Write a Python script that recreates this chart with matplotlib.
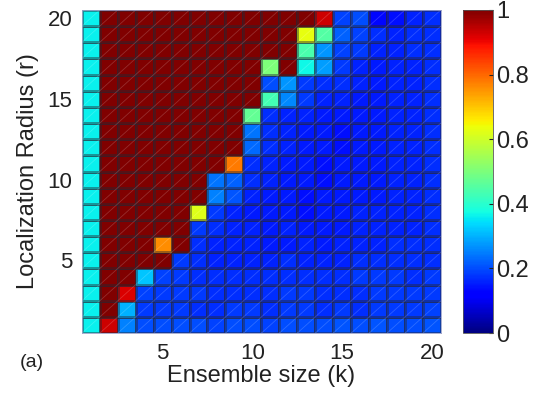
import numpy as np
import matplotlib
matplotlib.use('Agg')
import matplotlib.pyplot as plt
from matplotlib.collections import LineCollection

plt.rcParams['font.family'] = ['Liberation Sans', 'DejaVu Sans']

# Ensemble size k (columns) and localization radius r (rows)
k_vals = np.arange(1, 21)
r_vals = np.arange(1, 21)
x_ticks = [5, 10, 15, 20]
y_ticks = [5, 10, 15, 20]
cbar_ticks = [0, 0.2, 0.4, 0.6, 0.8, 1]

# values, one list per radius r = 1 .. 20 (bottom to top)
row_r01 = [0.36, 0.93, 0.25, 0.20, 0.20, 0.20, 0.20, 0.19, 0.20, 0.20, 0.19, 0.20, 0.20, 0.20, 0.21, 0.20, 0.21, 0.20, 0.20, 0.21]
row_r02 = [0.36, 1.00, 0.30, 0.18, 0.18, 0.18, 0.17, 0.17, 0.18, 0.18, 0.17, 0.18, 0.18, 0.17, 0.18, 0.17, 0.18, 0.18, 0.18, 0.19]
row_r03 = [0.36, 1.00, 0.92, 0.19, 0.18, 0.18, 0.18, 0.17, 0.17, 0.17, 0.17, 0.18, 0.18, 0.17, 0.17, 0.17, 0.18, 0.18, 0.18, 0.18]
row_r04 = [0.36, 1.00, 1.00, 0.32, 0.19, 0.18, 0.17, 0.17, 0.17, 0.17, 0.17, 0.17, 0.17, 0.17, 0.17, 0.18, 0.18, 0.18, 0.17, 0.18]
row_r05 = [0.36, 1.00, 1.00, 1.00, 1.00, 0.18, 0.17, 0.16, 0.16, 0.16, 0.16, 0.17, 0.16, 0.16, 0.16, 0.17, 0.17, 0.17, 0.17, 0.17]
row_r06 = [0.36, 1.00, 1.00, 1.00, 0.76, 1.00, 0.17, 0.16, 0.16, 0.16, 0.15, 0.15, 0.16, 0.15, 0.16, 0.16, 0.16, 0.17, 0.17, 0.17]
row_r07 = [0.36, 1.00, 1.00, 1.00, 1.00, 1.00, 0.18, 0.17, 0.16, 0.16, 0.15, 0.16, 0.15, 0.15, 0.15, 0.16, 0.16, 0.16, 0.16, 0.17]
row_r08 = [0.36, 1.00, 1.00, 1.00, 1.00, 1.00, 0.62, 0.18, 0.16, 0.15, 0.15, 0.15, 0.14, 0.15, 0.15, 0.16, 0.16, 0.16, 0.16, 0.17]
row_r09 = [0.36, 1.00, 1.00, 1.00, 1.00, 1.00, 1.00, 0.25, 0.21, 0.16, 0.15, 0.15, 0.14, 0.15, 0.15, 0.15, 0.15, 0.16, 0.16, 0.17]
row_r10 = [0.36, 1.00, 1.00, 1.00, 1.00, 1.00, 1.00, 0.24, 0.22, 0.17, 0.16, 0.15, 0.15, 0.14, 0.15, 0.15, 0.15, 0.16, 0.16, 0.17]
row_r11 = [0.36, 1.00, 1.00, 1.00, 1.00, 1.00, 1.00, 1.00, 0.78, 0.17, 0.16, 0.15, 0.15, 0.14, 0.15, 0.15, 0.15, 0.16, 0.16, 0.17]
row_r12 = [0.36, 1.00, 1.00, 1.00, 1.00, 1.00, 1.00, 1.00, 1.00, 0.23, 0.17, 0.16, 0.15, 0.15, 0.14, 0.15, 0.15, 0.16, 0.16, 0.17]
row_r13 = [0.36, 1.00, 1.00, 1.00, 1.00, 1.00, 1.00, 1.00, 1.00, 0.24, 0.17, 0.16, 0.15, 0.15, 0.14, 0.15, 0.15, 0.16, 0.16, 0.17]
row_r14 = [0.36, 1.00, 1.00, 1.00, 1.00, 1.00, 1.00, 1.00, 1.00, 0.47, 0.17, 0.16, 0.16, 0.15, 0.15, 0.15, 0.15, 0.16, 0.16, 0.17]
row_r15 = [0.36, 1.00, 1.00, 1.00, 1.00, 1.00, 1.00, 1.00, 1.00, 1.00, 0.43, 0.26, 0.18, 0.16, 0.16, 0.15, 0.15, 0.16, 0.16, 0.17]
row_r16 = [0.36, 1.00, 1.00, 1.00, 1.00, 1.00, 1.00, 1.00, 1.00, 1.00, 0.20, 0.27, 0.18, 0.17, 0.17, 0.16, 0.15, 0.16, 0.16, 0.17]
row_r17 = [0.36, 1.00, 1.00, 1.00, 1.00, 1.00, 1.00, 1.00, 1.00, 1.00, 0.50, 1.00, 0.37, 0.28, 0.18, 0.16, 0.15, 0.16, 0.16, 0.17]
row_r18 = [0.36, 1.00, 1.00, 1.00, 1.00, 1.00, 1.00, 1.00, 1.00, 1.00, 1.00, 1.00, 0.44, 0.27, 0.19, 0.18, 0.16, 0.16, 0.17, 0.17]
row_r19 = [0.36, 1.00, 1.00, 1.00, 1.00, 1.00, 1.00, 1.00, 1.00, 1.00, 1.00, 1.00, 0.63, 0.45, 0.22, 0.19, 0.17, 0.16, 0.17, 0.17]
row_r20 = [0.36, 1.00, 1.00, 1.00, 1.00, 1.00, 1.00, 1.00, 1.00, 1.00, 1.00, 1.00, 1.00, 0.93, 0.19, 0.20, 0.13, 0.14, 0.16, 0.17]

Z = np.array([row_r01, row_r02, row_r03, row_r04, row_r05, row_r06, row_r07,
              row_r08, row_r09, row_r10, row_r11, row_r12, row_r13, row_r14,
              row_r15, row_r16, row_r17, row_r18, row_r19, row_r20])

fig = plt.figure(figsize=(5.35, 3.98), dpi=100)
ax = fig.add_axes([0.153, 0.163, 0.671, 0.812])
cax = fig.add_axes([0.865, 0.163, 0.057, 0.812])

# cell edges
x_edges = np.append(k_vals - 0.5, k_vals[-1] + 0.5)
y_edges = np.append(r_vals - 0.5, r_vals[-1] + 0.5)
mesh = ax.pcolormesh(x_edges, y_edges, Z, cmap='jet', vmin=0, vmax=1,
                     edgecolors=(0.15, 0.15, 0.2, 0.45), linewidth=0.9)

# faint diagonal seams inside every cell (from the original export)
segs = [[(x0, y0), (x0 + 1, y0 + 1)] for x0 in x_edges[:-1] for y0 in y_edges[:-1]]
ax.add_collection(LineCollection(segs, colors='white', alpha=0.18, linewidths=0.6))

ax.set_xlim(x_edges[0], x_edges[-1])
ax.set_ylim(y_edges[0], y_edges[-1])
ax.set_xticks(x_ticks)
ax.set_yticks(y_ticks)
ax.tick_params(direction='in', length=0, labelsize=16, colors='#222222', pad=7)
for s in ax.spines.values():
    s.set_color('#9aa0c8')
    s.set_linewidth(0.6)
ax.set_xlabel('Ensemble size (k)', fontsize=17, color='#222222', labelpad=1)
ax.set_ylabel('Localization Radius (r)', fontsize=17, color='#222222', labelpad=6)

cb = fig.colorbar(mesh, cax=cax, ticks=cbar_ticks)
cb.ax.set_yticklabels(['0', '0.2', '0.4', '0.6', '0.8', '1'])
cb.ax.tick_params(direction='in', length=3, labelsize=17, colors='#222222', pad=2)
cb.outline.set_linewidth(0.6)
cb.outline.set_edgecolor('#555555')

fig.text(0.037, 0.09, '(a)', fontsize=14, color='#222222', va='center')

fig.savefig('out.png', dpi=100)
